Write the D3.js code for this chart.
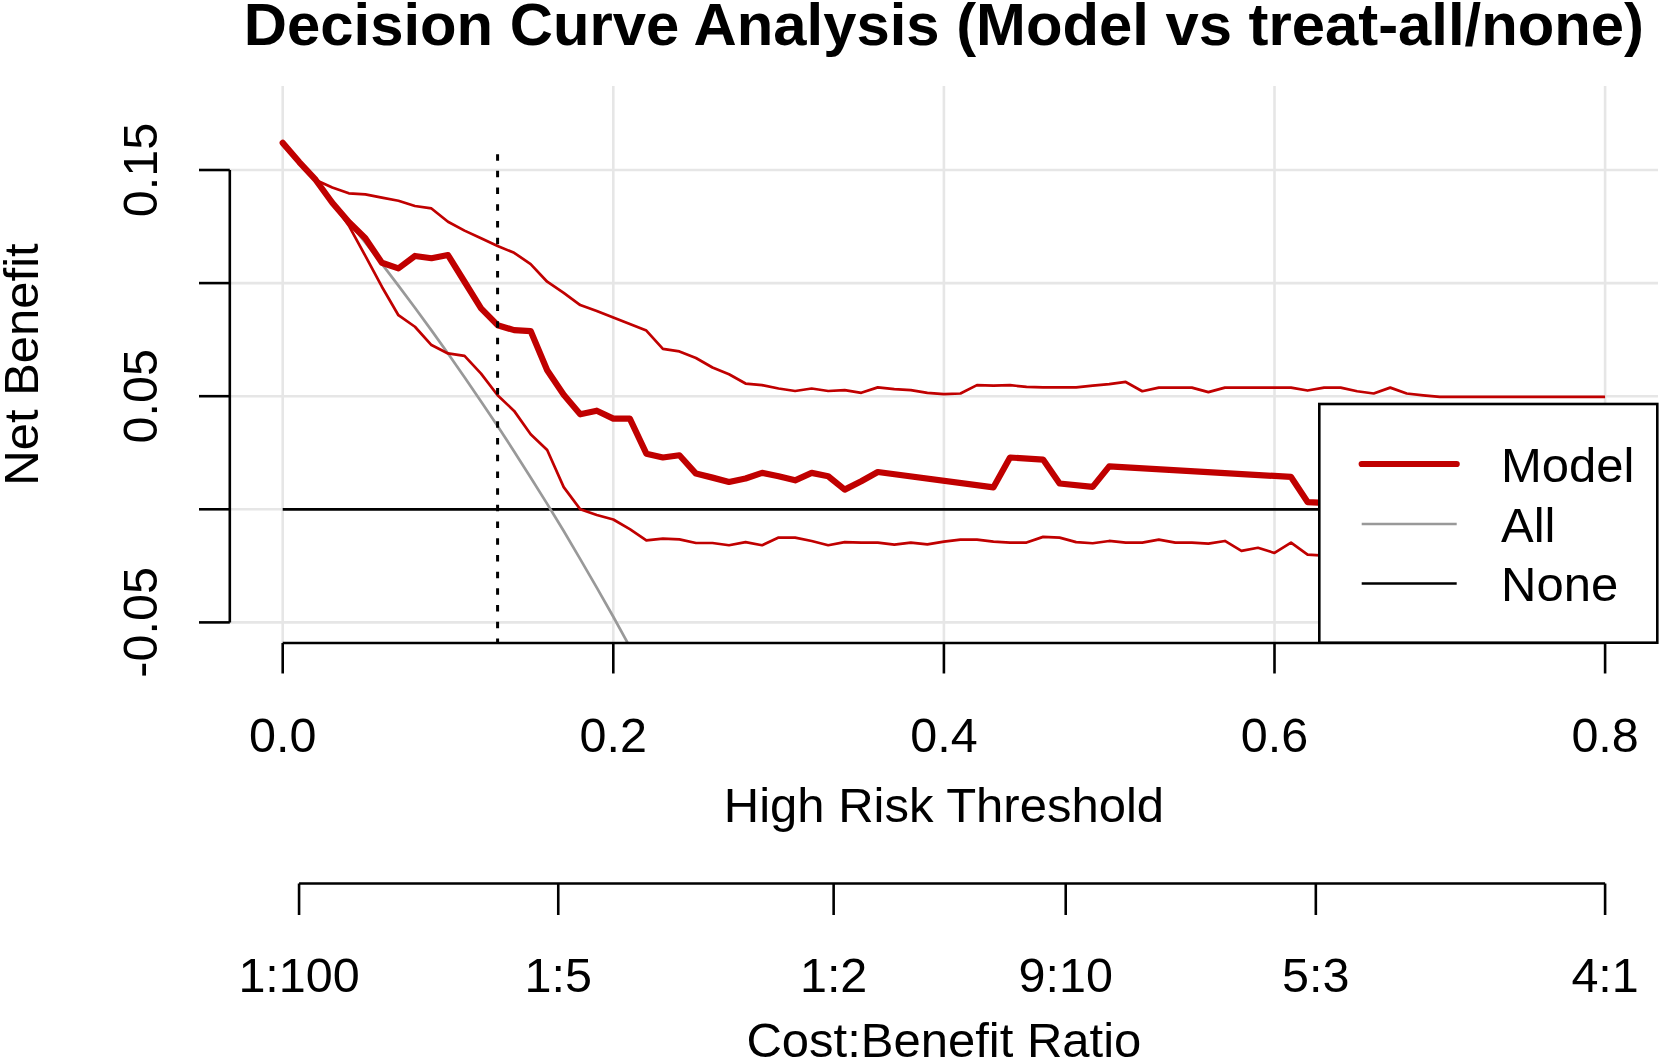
<!DOCTYPE html>
<html>
<head>
<meta charset="utf-8">
<script src="https://cdn.jsdelivr.net/npm/d3@7"></script>
<style>
  html, body { margin: 0; padding: 0; background: #ffffff; }
  svg { display: block; font-family: "Liberation Sans", Arial, Helvetica, sans-serif; }
</style>
</head>
<body>
<svg id="chart" width="1659" height="1060"></svg>
<script>
// ---------------- data ----------------
const chartTitle = "Decision Curve Analysis (Model vs treat-all/none)";
const xLabel = "High Risk Threshold";
const yLabel = "Net Benefit";
const cbLabel = "Cost:Benefit Ratio";

const xTicks = [0, 0.2, 0.4, 0.6, 0.8];
const xTickLabels = ["0.0", "0.2", "0.4", "0.6", "0.8"];
const yTicks = [-0.05, 0, 0.05, 0.10, 0.15];
const yTickLabels = ["-0.05", "", "0.05", "", "0.15"];
const cbTicks = [0.0099, 0.1667, 0.3333, 0.4737, 0.625, 0.8];
const cbTickLabels = ["1:100", "1:5", "1:2", "9:10", "5:3", "4:1"];

const modelT = [0, 0.01, 0.02, 0.03, 0.04, 0.05, 0.06, 0.07, 0.08, 0.09, 0.10, 0.11, 0.12, 0.13, 0.14, 0.15, 0.16, 0.17, 0.18, 0.19, 0.20, 0.21, 0.22, 0.23, 0.24, 0.25, 0.26, 0.27, 0.28, 0.29, 0.30, 0.31, 0.32, 0.33, 0.34, 0.35, 0.36, 0.43, 0.44, 0.46, 0.47, 0.49, 0.50, 0.61, 0.62, 0.63, 0.65, 0.70, 0.80];
const modelNB = [0.162, 0.1535, 0.1456, 0.1355, 0.1270, 0.1198, 0.1090, 0.1065, 0.1120, 0.1110, 0.1124, 0.1006, 0.0888, 0.0814, 0.0792, 0.0788, 0.0615, 0.0506, 0.0420, 0.0436, 0.0401, 0.0401, 0.0246, 0.0229, 0.0239, 0.0158, 0.0140, 0.0121, 0.0136, 0.0161, 0.0146, 0.0128, 0.0161, 0.0146, 0.0087, 0.0124, 0.0165, 0.0097, 0.0229, 0.0220, 0.0114, 0.0099, 0.0190, 0.0143, 0.0032, 0.0028, 0.0020, 0.0010, 0.0];

const upperT = [0, 0.01, 0.02, 0.03, 0.04, 0.05, 0.06, 0.07, 0.08, 0.09, 0.10, 0.11, 0.12, 0.13, 0.14, 0.15, 0.16, 0.17, 0.18, 0.19, 0.20, 0.21, 0.22, 0.23, 0.24, 0.25, 0.26, 0.27, 0.28, 0.29, 0.30, 0.31, 0.32, 0.33, 0.34, 0.35, 0.36, 0.37, 0.38, 0.39, 0.40, 0.41, 0.42, 0.43, 0.44, 0.45, 0.46, 0.47, 0.48, 0.49, 0.50, 0.51, 0.52, 0.53, 0.54, 0.55, 0.56, 0.57, 0.58, 0.59, 0.60, 0.61, 0.62, 0.63, 0.64, 0.65, 0.66, 0.67, 0.68, 0.69, 0.70, 0.80];
const upperNB = [0.162, 0.1535, 0.1456, 0.1423, 0.1397, 0.1392, 0.1378, 0.1364, 0.1341, 0.1330, 0.1271, 0.1232, 0.1198, 0.1164, 0.1134, 0.1084, 0.1006, 0.0957, 0.0903, 0.0877, 0.0848, 0.0819, 0.0790, 0.0709, 0.0698, 0.0669, 0.0627, 0.0597, 0.0556, 0.0549, 0.0534, 0.0523, 0.0534, 0.0523, 0.0527, 0.0515, 0.0539, 0.0531, 0.0527, 0.0515, 0.0509, 0.0512, 0.0549, 0.0547, 0.0549, 0.0541, 0.0539, 0.0539, 0.0539, 0.0547, 0.0553, 0.0563, 0.0522, 0.0538, 0.0538, 0.0538, 0.0518, 0.0538, 0.0538, 0.0538, 0.0538, 0.0538, 0.0525, 0.0538, 0.0538, 0.0522, 0.0512, 0.0538, 0.0512, 0.0504, 0.0497, 0.0497];

const lowerT = [0, 0.01, 0.02, 0.03, 0.04, 0.05, 0.06, 0.07, 0.08, 0.09, 0.10, 0.11, 0.12, 0.13, 0.14, 0.15, 0.16, 0.17, 0.18, 0.19, 0.20, 0.21, 0.22, 0.23, 0.24, 0.25, 0.26, 0.27, 0.28, 0.29, 0.30, 0.31, 0.32, 0.33, 0.34, 0.35, 0.36, 0.37, 0.38, 0.39, 0.40, 0.41, 0.42, 0.43, 0.44, 0.45, 0.46, 0.47, 0.48, 0.49, 0.50, 0.51, 0.52, 0.53, 0.54, 0.55, 0.56, 0.57, 0.58, 0.59, 0.60, 0.61, 0.62, 0.63, 0.65, 0.70, 0.80];
const lowerNB = [0.162, 0.1535, 0.1449, 0.1355, 0.1254, 0.1120, 0.0984, 0.0858, 0.0807, 0.0726, 0.0689, 0.0678, 0.0600, 0.0504, 0.0435, 0.0332, 0.0262, 0.0098, 0.0000, -0.0025, -0.0045, -0.0088, -0.0137, -0.0130, -0.0133, -0.0149, -0.0149, -0.0159, -0.0145, -0.0159, -0.0125, -0.0125, -0.0140, -0.0159, -0.0145, -0.0147, -0.0147, -0.0156, -0.0147, -0.0155, -0.0143, -0.0134, -0.0134, -0.0143, -0.0147, -0.0147, -0.0122, -0.0125, -0.0145, -0.0150, -0.0140, -0.0147, -0.0147, -0.0134, -0.0147, -0.0147, -0.0152, -0.0140, -0.0184, -0.0170, -0.0193, -0.0147, -0.0200, -0.0205, -0.0210, -0.0220, -0.0220];

const allT = [0, 0.01, 0.02, 0.03, 0.04, 0.05, 0.06, 0.07, 0.08, 0.09, 0.10, 0.11, 0.12, 0.13, 0.14, 0.15, 0.16, 0.17, 0.18, 0.19, 0.20, 0.21, 0.22];
const allNB = [0.162, 0.1535, 0.1449, 0.1361, 0.1271, 0.1179, 0.1085, 0.0989, 0.0891, 0.0791, 0.0689, 0.0584, 0.0477, 0.0368, 0.0256, 0.0141, 0.0024, -0.0096, -0.0220, -0.0346, -0.0475, -0.0608, -0.0744];

const noneT = [0, 0.8];
const noneNB = [0, 0];

const cutoffT = 0.13;
const cutoffTop = 0.157;

const legendLabels = ["Model", "All", "None"];

(function () {
// ---------------- styles ----------------
const RED = "#c00000";
const GRAY = "#999999";
const GRID = "#e6e6e6";

// ---------------- scales ----------------
const x = d3.scaleLinear().domain([0, 0.8]).range([282.7, 1605.1]);
const y = d3.scaleLinear().domain([-0.05, 0.15]).range([622.4, 170]);
const xlimR = [-0.032, 0.832];
const ylimR = [-0.0591, 0.1871];
const pLeft = x(xlimR[0]), pRight = x(xlimR[1]);
const pTop = y(ylimR[1]), pBottom = y(ylimR[0]);

const svg = d3.select("#chart");
svg.append("rect").attr("width", 1659).attr("height", 1060).attr("fill", "#fff");

svg.append("defs").append("clipPath").attr("id", "plotclip")
  .append("rect").attr("x", pLeft).attr("y", pTop).attr("width", pRight - pLeft).attr("height", pBottom - pTop);

// grid
const grid = svg.append("g");
grid.selectAll("line.v").data(xTicks).enter().append("line")
  .attr("x1", d => x(d)).attr("x2", d => x(d)).attr("y1", pTop).attr("y2", pBottom)
  .attr("stroke", GRID).attr("stroke-width", 2.6);
grid.selectAll("line.h").data(yTicks).enter().append("line")
  .attr("x1", pLeft).attr("x2", pRight).attr("y1", d => y(d)).attr("y2", d => y(d))
  .attr("stroke", GRID).attr("stroke-width", 2.6);

// curves
const plot = svg.append("g").attr("clip-path", "url(#plotclip)");
const line = d3.line().x(d => x(d[0])).y(d => y(d[1]));
const zip = (a, b) => a.map((v, i) => [v, b[i]]);

plot.append("path").datum(zip(noneT, noneNB)).attr("d", line)
  .attr("fill", "none").attr("stroke", "#000").attr("stroke-width", 2.7);
plot.append("path").datum(zip(allT, allNB)).attr("d", line)
  .attr("fill", "none").attr("stroke", GRAY).attr("stroke-width", 2.7);
plot.append("path").datum(zip(upperT, upperNB)).attr("d", line)
  .attr("fill", "none").attr("stroke", RED).attr("stroke-width", 2.7).attr("stroke-linejoin", "round");
plot.append("path").datum(zip(lowerT, lowerNB)).attr("d", line)
  .attr("fill", "none").attr("stroke", RED).attr("stroke-width", 2.7).attr("stroke-linejoin", "round");
plot.append("path").datum(zip(modelT, modelNB)).attr("d", line)
  .attr("fill", "none").attr("stroke", RED).attr("stroke-width", 6.2)
  .attr("stroke-linejoin", "round").attr("stroke-linecap", "round");

// cutoff dotted line
plot.append("line")
  .attr("x1", x(cutoffT)).attr("x2", x(cutoffT)).attr("y1", y(cutoffTop)).attr("y2", pBottom)
  .attr("stroke", "#000").attr("stroke-width", 3).attr("stroke-dasharray", "6.5 10.2");

// axes
const AX = 2.6;
const yAxis = svg.append("g");
yAxis.append("line").attr("x1", pLeft).attr("x2", pLeft).attr("y1", y(yTicks[0])).attr("y2", y(yTicks[yTicks.length - 1]))
  .attr("stroke", "#000").attr("stroke-width", AX);
yAxis.selectAll("line.t").data(yTicks).enter().append("line")
  .attr("x1", pLeft - 30.8).attr("x2", pLeft).attr("y1", d => y(d)).attr("y2", d => y(d))
  .attr("stroke", "#000").attr("stroke-width", AX);
yAxis.selectAll("text").data(yTicks).enter().append("text")
  .attr("transform", d => `translate(156.7,${y(d)}) rotate(-90)`)
  .attr("text-anchor", "middle").attr("font-size", 48.5).attr("fill", "#000")
  .text((d, i) => yTickLabels[i]);

const xAxis = svg.append("g");
xAxis.append("line").attr("x1", x(xTicks[0])).attr("x2", x(xTicks[xTicks.length - 1])).attr("y1", pBottom).attr("y2", pBottom)
  .attr("stroke", "#000").attr("stroke-width", AX);
xAxis.selectAll("line.t").data(xTicks).enter().append("line")
  .attr("x1", d => x(d)).attr("x2", d => x(d)).attr("y1", pBottom).attr("y2", pBottom + 30.5)
  .attr("stroke", "#000").attr("stroke-width", AX);
xAxis.selectAll("text").data(xTicks).enter().append("text")
  .attr("x", d => x(d)).attr("y", 751.7)
  .attr("text-anchor", "middle").attr("font-size", 48.5).attr("fill", "#000")
  .text((d, i) => xTickLabels[i]);

// cost:benefit axis
const cbY = 883.5;
const cbAxis = svg.append("g");
cbAxis.append("line").attr("x1", x(cbTicks[0])).attr("x2", x(cbTicks[cbTicks.length - 1])).attr("y1", cbY).attr("y2", cbY)
  .attr("stroke", "#000").attr("stroke-width", AX);
cbAxis.selectAll("line.t").data(cbTicks).enter().append("line")
  .attr("x1", d => x(d)).attr("x2", d => x(d)).attr("y1", cbY).attr("y2", cbY + 31.5)
  .attr("stroke", "#000").attr("stroke-width", AX);
cbAxis.selectAll("text").data(cbTicks).enter().append("text")
  .attr("x", d => x(d)).attr("y", 991.7)
  .attr("text-anchor", "middle").attr("font-size", 48.5).attr("fill", "#000")
  .text((d, i) => cbTickLabels[i]);

// labels
const cx = (pLeft + pRight) / 2;
svg.append("text").attr("x", cx).attr("y", 45).attr("text-anchor", "middle")
  .attr("font-size", 59.8).attr("font-weight", "bold").attr("fill", "#000").text(chartTitle);
svg.append("text").attr("x", cx).attr("y", 822).attr("text-anchor", "middle")
  .attr("font-size", 49).attr("fill", "#000").text(xLabel);
svg.append("text").attr("x", cx).attr("y", 1056.5).attr("text-anchor", "middle")
  .attr("font-size", 49).attr("fill", "#000").text(cbLabel);
svg.append("text").attr("transform", `translate(37.5,${(pTop + pBottom) / 2}) rotate(-90)`)
  .attr("text-anchor", "middle").attr("font-size", 49).attr("fill", "#000").text(yLabel);

// legend (bottom right)
const lg = svg.append("g");
lg.append("rect").attr("x", 1319.3).attr("y", 404).attr("width", 1657.3 - 1319.3).attr("height", 642.7 - 404)
  .attr("fill", "#fff").attr("stroke", "#000").attr("stroke-width", AX);
const legendStyles = [
  { color: RED, width: 6.2, cap: "round" },
  { color: GRAY, width: 2.7, cap: "butt" },
  { color: "#000", width: 2.7, cap: "butt" }
];
const rowY = [464, 524, 583.5];
legendLabels.forEach((lab, i) => {
  lg.append("line").attr("x1", 1361.7).attr("x2", 1456.7).attr("y1", rowY[i]).attr("y2", rowY[i])
    .attr("stroke", legendStyles[i].color).attr("stroke-width", legendStyles[i].width)
    .attr("stroke-linecap", legendStyles[i].cap);
  lg.append("text").attr("x", 1501).attr("y", rowY[i] + 17.8).attr("font-size", 49).attr("fill", "#000").text(lab);
});
})();
</script>
</body>
</html>
